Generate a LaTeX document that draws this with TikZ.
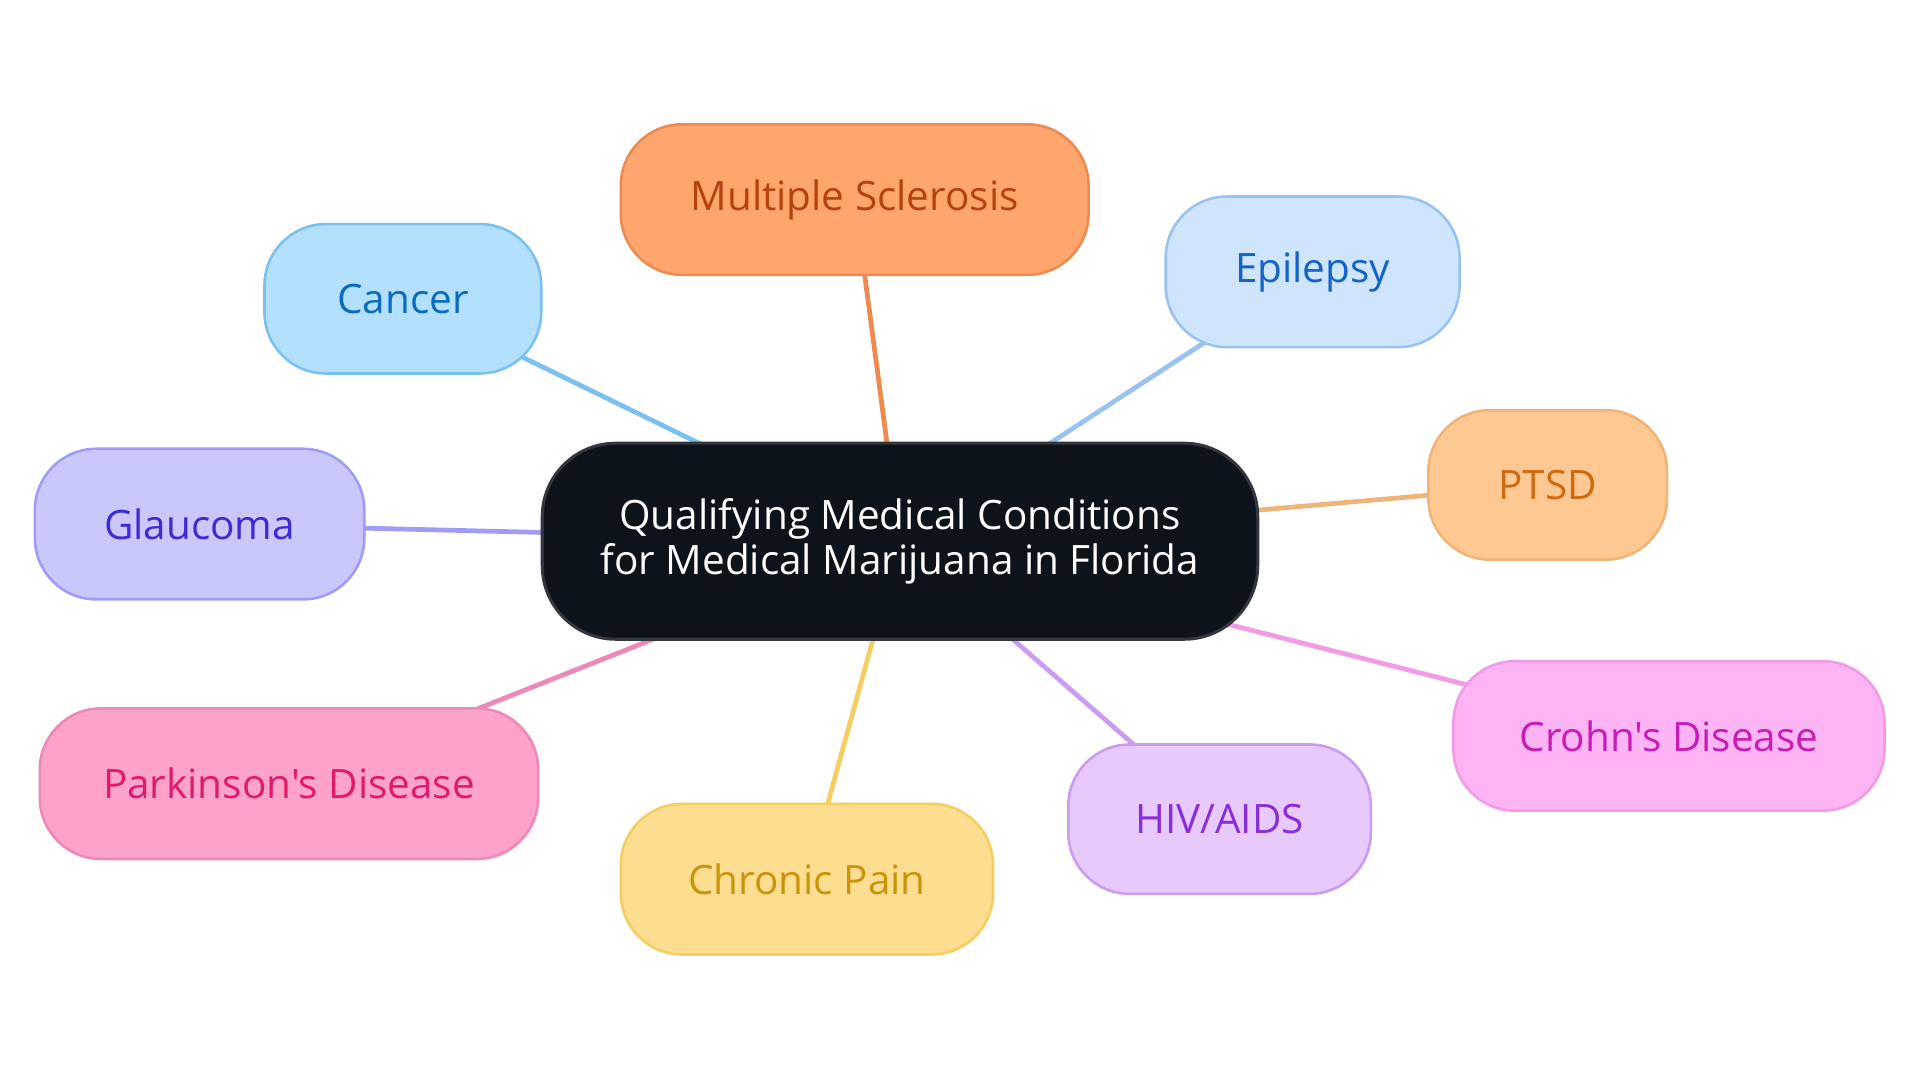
\documentclass[tikz,border=0pt]{standalone}
\usepackage{fontspec}
\newfontfamily\lblfont{Open Sans}
\usetikzlibrary{backgrounds}
\definecolor{cfill}{HTML}{0D131B}\definecolor{cdraw}{HTML}{33373D}
\definecolor{msF}{HTML}{FFA66E}\definecolor{msD}{HTML}{EC8A50}\definecolor{msT}{HTML}{B5420F}
\definecolor{caF}{HTML}{B3E0FF}\definecolor{caD}{HTML}{7CC0F0}\definecolor{caT}{HTML}{0A6BBF}
\definecolor{epF}{HTML}{CFE4FD}\definecolor{epD}{HTML}{98C2F0}\definecolor{epT}{HTML}{1463C9}
\definecolor{ptF}{HTML}{FDC891}\definecolor{ptD}{HTML}{F0B478}\definecolor{ptT}{HTML}{D06A10}
\definecolor{glF}{HTML}{C9C8FD}\definecolor{glD}{HTML}{A09CF5}\definecolor{glT}{HTML}{3A2ED0}
\definecolor{crF}{HTML}{FDB4F5}\definecolor{crD}{HTML}{F29AE6}\definecolor{crT}{HTML}{C71CB5}
\definecolor{hiF}{HTML}{E8C9FD}\definecolor{hiD}{HTML}{C99CF0}\definecolor{hiT}{HTML}{8A2ED8}
\definecolor{chF}{HTML}{FDDD90}\definecolor{chD}{HTML}{F5CD60}\definecolor{chT}{HTML}{C9950C}
\definecolor{paF}{HTML}{FDA2C9}\definecolor{paD}{HTML}{EE88B8}\definecolor{paT}{HTML}{E01B6C}
\tikzset{
  leaf/.style n args={5}{draw=#2, fill=#1, text=#3, line width=0.6pt, rounded corners=0.5cm,
    minimum width=#4*0.01cm, minimum height=#5*0.01cm, inner sep=0pt,
    font=\lblfont\fontsize{9.4}{11}\selectfont},
  hub/.style={draw=cdraw, fill=cfill, text=white, line width=0.7pt, rounded corners=0.6cm,
    minimum width=5.84cm, minimum height=1.60cm, inner sep=0pt, align=center,
    font=\lblfont\fontsize{9.4}{10.6}\selectfont},
  link/.style={draw=#1, line width=1.1pt}
}
\begin{document}
\begin{tikzpicture}[x=0.01cm,y=-0.01cm]
\useasboundingbox (0,0) rectangle (1568,884);
\node[hub] (c) at (735,442) {Qualifying Medical Conditions\\for Medical Marijuana in Florida};
\node[leaf={msF}{msD}{msT}{382}{123}] (ms) at (698,163) {Multiple Sclerosis};
\node[leaf={caF}{caD}{caT}{226}{122}] (ca) at (329,244) {Cancer};
\node[leaf={epF}{epD}{epT}{240}{123}] (ep) at (1072,222) {Epilepsy};
\node[leaf={ptF}{ptD}{ptT}{195}{122}] (pt) at (1264,396) {PTSD};
\node[leaf={glF}{glD}{glT}{269}{123}] (gl) at (163,428) {Glaucoma};
\node[leaf={crF}{crD}{crT}{352}{122}] (cr) at (1363,601) {Crohn's Disease};
\node[leaf={hiF}{hiD}{hiT}{247}{122}] (hi) at (996,669) {HIV/AIDS};
\node[leaf={chF}{chD}{chT}{304}{123}] (ch) at (659,718) {Chronic Pain};
\node[leaf={paF}{paD}{paT}{407}{123}] (pa) at (236,640) {Parkinson's Disease};
\begin{pgfonlayer}{background}
\draw[link=msD] (c.center) -- (ms.center);
\draw[link=caD] (c.center) -- (ca.center);
\draw[link=epD] (c.center) -- (ep.center);
\draw[link=ptD] (c.center) -- (pt.center);
\draw[link=glD] (c.center) -- (gl.center);
\draw[link=crD] (c.center) -- (cr.center);
\draw[link=hiD] (c.center) -- (hi.center);
\draw[link=chD] (c.center) -- (ch.center);
\draw[link=paD] (c.center) -- (pa.center);
\end{pgfonlayer}
\end{tikzpicture}
\end{document}
